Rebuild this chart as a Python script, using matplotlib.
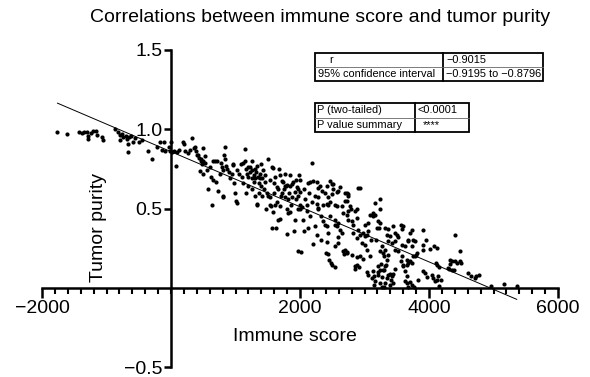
import numpy as np
import matplotlib
matplotlib.use("Agg")
import matplotlib.pyplot as plt
from matplotlib.patches import Rectangle
from matplotlib.lines import Line2D
from matplotlib.ticker import FixedLocator, MultipleLocator

plt.rcParams['font.family'] = ['Liberation Sans', 'DejaVu Sans']

# immune score (x) and tumor purity (y) for each sample
immune_score = [
    # below 0
    -1760, -1620, -1420, -1380, -1345, -1300, -1290, -1280, -1245, -1205,
    -1170, -1150, -1075, -1050, -865, -825, -790, -760, -740, -790,
    -700, -680, -650, -620, -585, -660, -670, -560, -490, -445,
    -350, -300, -220, -170, -145, -110, -90, -30, -15, 0,
    # 0 - 500
    10, 40, 80, 100, 130, 190, 200, 210, 260, 320,
    300, 350, 370, 390, 400, 420, 440, 450, 460, 470,
    480, 500,
    # 500 - 1000
    500, 520, 490, 530, 580, 630, 650, 655, 680, 710,
    705, 735, 770, 785, 800, 800, 810, 835, 835, 820,
    860, 900, 920, 955, 965, 990, 1005, 1020, 980, 940,
    870, 760, 600, 560, 620,
    # 1000 - 1500
    1020, 1080, 1110, 1120, 1145, 1160, 1180, 1200, 1220, 1230,
    1250, 1260, 1280, 1290, 1300, 1310, 1320, 1330, 1340, 1350,
    1360, 1380, 1390, 1400, 1410, 1420, 1440, 1450, 1460, 1480,
    1490, 1500, 1300, 1250, 1200, 1100, 1050, 1170, 1406, 1360,
    1140, 1260, 1380, 1335, 1190,
    # 1500 - 2000
    1510, 1535, 1535, 1545, 1560, 1560, 1585, 1585, 1610, 1630,
    1638, 1650, 1665, 1665, 1680, 1690, 1690, 1690, 1715, 1740,
    1765, 1767, 1780, 1795, 1795, 1805, 1818, 1820, 1845, 1845,
    1845, 1871, 1871, 1896, 1905, 1920, 1922, 1938, 1948, 1970,
    1975, 1973, 1973, 1989, 1540, 1600, 1620, 1720, 1760, 1830,
    1600, 1700, 1750, 1940, 1860,
    # 2000 - 2500
    2000, 2000, 2000, 2000, 2010, 2026, 2050, 2103, 2103, 2128,
    2155, 2181, 2181, 2206, 2206, 2232, 2232, 2258, 2258, 2258,
    2273, 2283, 2283, 2283, 2310, 2335, 2387, 2387, 2413, 2413,
    2403, 2413, 2413, 2438, 2438, 2438, 2438, 2449, 2465, 2465,
    2465, 2480, 2490, 2490, 2500, 2060, 2080, 2140, 2150, 2320,
    2350, 2360, 2330, 2060, 2120,
    # 2500 - 3000
    2516, 2516, 2537, 2542, 2542, 2542, 2542, 2568, 2568, 2568,
    2594, 2594, 2594, 2594, 2620, 2620, 2646, 2646, 2671, 2671,
    2684, 2697, 2697, 2697, 2723, 2723, 2723, 2723, 2731, 2748,
    2748, 2748, 2748, 2775, 2790, 2800, 2801, 2826, 2826, 2852,
    2852, 2860, 2878, 2878, 2878, 2878, 2889, 2903, 2903, 2919,
    2930, 2930, 2930, 2956, 2977, 2981,
    # 3000 - 3500
    3007, 3007, 3007, 3033, 3033, 3033, 3047, 3059, 3085, 3111,
    3136, 3136, 3136, 3142, 3153, 3162, 3162, 3162, 3188, 3203,
    3212, 3214, 3225, 3214, 3240, 3240, 3240, 3240, 3240, 3255,
    3266, 3270, 3270, 3291, 3291, 3300, 3300, 3307, 3317, 3317,
    3317, 3317, 3329, 3343, 3343, 3343, 3369, 3369, 3369, 3369,
    3388, 3395, 3395, 3418, 3421, 3421, 3446, 3446, 3446, 3472,
    3472, 3472, 3476, 3498, 3240, 3050, 3100, 3090, 3180,
    # 3500 - 4000
    3524, 3524, 3565, 3565, 3575, 3575, 3575, 3593, 3601, 3601,
    3627, 3627, 3627, 3652, 3652, 3665, 3653, 3679, 3679, 3681,
    3681, 3705, 3705, 3705, 3730, 3730, 3730, 3740, 3756, 3756,
    3768, 3782, 3782, 3798, 3808, 3833, 3911, 3911, 3911, 3911,
    3937, 3955, 3974,
    # above 4000
    4020, 4041, 4061, 4085, 4092, 4108, 4118, 4118, 4129, 4144,
    4149, 4149, 4179, 4290, 4314, 4325, 4325, 4351, 4355, 4384,
    4402, 4410, 4441, 4480, 4485, 4501, 4599, 4655, 4707, 4735,
    4779, 4955, 5162, 5360,
]

tumor_purity = [
    # below 0
    0.98, 0.97, 0.98, 0.975, 0.98, 0.985, 0.94, 0.96, 0.975, 0.99,
    0.99, 0.965, 0.95, 0.93, 1.0, 0.98, 0.965, 0.97, 0.95, 0.93,
    0.955, 0.94, 0.95, 0.955, 0.92, 0.91, 0.855, 0.945, 0.92, 0.935,
    0.86, 0.815, 0.885, 0.92, 0.87, 0.92, 0.86, 0.885, 0.865, 0.92,
    # 0 - 500
    0.855, 0.86, 0.765, 0.855, 0.87, 0.92, 0.905, 0.86, 0.85, 0.945,
    0.87, 0.88, 0.885, 0.865, 0.835, 0.84, 0.82, 0.735, 0.81, 0.80,
    0.78, 0.715,
    # 500 - 1000
    0.88, 0.83, 0.80, 0.79, 0.62, 0.52, 0.80, 0.68, 0.80, 0.80,
    0.67, 0.61, 0.79, 0.76, 0.74, 0.58, 0.57, 0.885, 0.81, 0.835,
    0.77, 0.73, 0.69, 0.78, 0.775, 0.595, 0.545, 0.74, 0.66, 0.72,
    0.75, 0.72, 0.76, 0.74, 0.70,
    # 1000 - 1500
    0.535, 0.78, 0.785, 0.66, 0.875, 0.75, 0.72, 0.70, 0.76, 0.73,
    0.69, 0.74, 0.71, 0.67, 0.75, 0.69, 0.73, 0.53, 0.77, 0.70,
    0.66, 0.72, 0.64, 0.78, 0.69, 0.74, 0.62, 0.67, 0.71, 0.50,
    0.60, 0.81, 0.58, 0.62, 0.64, 0.70, 0.72, 0.60, 0.576, 0.60,
    0.80, 0.80, 0.69, 0.52, 0.76,
    # 1500 - 2000
    0.58, 0.525, 0.57, 0.517, 0.76, 0.38, 0.755, 0.48, 0.525, 0.38,
    0.538, 0.635, 0.62, 0.43, 0.75, 0.71, 0.435, 0.517, 0.675, 0.665,
    0.645, 0.57, 0.64, 0.50, 0.34, 0.65, 0.559, 0.47, 0.48, 0.71,
    0.64, 0.654, 0.57, 0.665, 0.355, 0.43, 0.601, 0.559, 0.633, 0.495,
    0.23, 0.622, 0.58, 0.713, 0.68, 0.66, 0.70, 0.60, 0.72, 0.60,
    0.60, 0.58, 0.62, 0.68, 0.52,
    # 2000 - 2500
    0.68, 0.494, 0.601, 0.523, 0.228, 0.511, 0.43, 0.483, 0.523, 0.378,
    0.665, 0.787, 0.538, 0.675, 0.276, 0.388, 0.58, 0.67, 0.335, 0.527,
    0.494, 0.504, 0.627, 0.57, 0.643, 0.612, 0.595, 0.399, 0.388, 0.287,
    0.219, 0.643, 0.527, 0.525, 0.346, 0.212, 0.57, 0.173, 0.451, 0.673,
    0.538, 0.157, 0.591, 0.654, 0.146, 0.62, 0.56, 0.60, 0.45, 0.45,
    0.52, 0.42, 0.30, 0.36, 0.66,
    # 2500 - 3000
    0.652, 0.622, 0.133, 0.399, 0.523, 0.261, 0.43, 0.388, 0.601, 0.515,
    0.409, 0.321, 0.283, 0.61, 0.367, 0.633, 0.346, 0.517, 0.23, 0.473,
    0.212, 0.24, 0.546, 0.599, 0.219, 0.462, 0.549, 0.595, 0.228, 0.483,
    0.43, 0.58, 0.589, 0.515, 0.50, 0.42, 0.204, 0.399, 0.346, 0.483,
    0.135, 0.121, 0.441, 0.315, 0.146, 0.50, 0.192, 0.367, 0.628, 0.133,
    0.335, 0.198, 0.631, 0.283, 0.18, 0.346,
    # 3000 - 3500
    0.325, 0.399, 0.272, 0.335, 0.24, 0.097, 0.078, 0.409, 0.462, 0.061,
    0.451, 0.473, 0.103, 0.02, 0.073, 0.462, 0.536, 0.04, 0.378, 0.135,
    0.078, 0.42, 0.38, 0.097, 0.409, 0.557, 0.498, 0.114, 0.23, 0.15,
    0.261, 0.068, 0.005, 0.11, 0.219, 0.109, 0.005, 0.198, 0.135, 0.24,
    0.378, 0.03, 0.145, 0.177, 0.335, 0.061, 0.209, 0.082, 0.293, 0.371,
    0.085, 0.325, 0.019, 0.049, 0.072, 0.283, 0.388, 0.03, 0.085, 0.293,
    0.346, 0.24, 0.121, 0.335, 0.03, 0.36, 0.30, 0.20, 0.30,
    # 3500 - 4000
    0.23, 0.321, 0.399, 0.167, 0.371, 0.272, 0.198, 0.145, 0.388, 0.135,
    0.261, 0.103, 0.04, 0.145, 0.073, 0.175, 0.03, 0.293, 0.304, 0.157,
    0.003, 0.346, 0.167, 0.034, 0.367, 0.261, 0.019, 0.157, 0.304, 0.198,
    0.003, 0.198, 0.293, 0.204, 0.219, 0.051, 0.367, 0.241, 0.272, 0.103,
    0.093, 0.30, 0.068,
    # above 4000
    0.243, 0.082, 0.061, 0.263, 0.04, 0.156, 0.252, 0.051, 0.146, 0.072,
    0.133, 0.011, 0.049, 0.125, 0.118, 0.177, 0.15, 0.109, 0.169, 0.109,
    0.167, 0.335, 0.157, 0.167, 0.235, 0.157, 0.093, 0.074, 0.061, 0.072,
    0.082, 0.013, 0.025, 0.01,
]

x_ticks = [-2000, 2000, 4000, 6000]
y_ticks = [-0.5, 0.5, 1.0, 1.5]

corr_rows = [("r", "\u22120.9015"),
             ("95% confidence interval", "\u22120.9195 to \u22120.8796")]
p_rows = [("P (two-tailed)", "<0.0001"),
          ("P value summary", "****")]

W, H = 590, 377


def draw_table(fig, left, top, col_w, row_h, rows, text_off):
    # small boxed results table, positions in pixels from top-left
    width = sum(col_w)
    height = row_h * len(rows)
    fig.add_artist(Rectangle((left / W, 1 - (top + height) / H), width / W, height / H,
                             transform=fig.transFigure, fill=False, ec='black', lw=1.3))
    xdiv = (left + col_w[0]) / W
    fig.add_artist(Line2D([xdiv, xdiv], [1 - top / H, 1 - (top + height) / H],
                          transform=fig.transFigure, color='black', lw=1.3))
    for i in range(1, len(rows)):
        yl = 1 - (top + i * row_h) / H
        fig.add_artist(Line2D([left / W, (left + width) / W], [yl, yl],
                              transform=fig.transFigure, color='0.4', lw=0.6))
    for i, (label, value) in enumerate(rows):
        yc = 1 - (top + (i + 0.5) * row_h) / H
        fig.text((left + text_off[i][0]) / W, yc, label, fontsize=7.9, ha='left', va='center')
        fig.text((left + col_w[0] + text_off[i][1]) / W, yc, value, fontsize=7.9,
                 ha='left', va='center')


x = np.array(immune_score, dtype=float)
y = np.array(tumor_purity, dtype=float)

fig = plt.figure(figsize=(5.9, 3.77), dpi=100)
ax = fig.add_axes([42 / W, 10 / H, 516 / W, 317 / H])

ax.scatter(x, y, s=9, color='black', linewidths=0, zorder=3)

# linear regression line over the data range
slope, intercept = np.polyfit(x, y, 1)
xs = np.array([x.min(), x.max()])
ax.plot(xs, intercept + slope * xs, color='black', lw=0.7, zorder=2)

ax.set_xlim(-2000, 6000)
ax.set_ylim(-0.5, 1.5)

ax.spines['left'].set_position(('data', 0))
ax.spines['bottom'].set_position(('data', 0))
ax.spines['top'].set_visible(False)
ax.spines['right'].set_visible(False)
for s in ('left', 'bottom'):
    ax.spines[s].set_linewidth(1.8)

ax.xaxis.set_major_locator(FixedLocator(x_ticks))
ax.xaxis.set_minor_locator(MultipleLocator(200))
ax.yaxis.set_major_locator(FixedLocator(y_ticks))
ax.tick_params(axis='x', which='major', direction='out', length=7, width=1.8,
               labelsize=14, pad=2)
ax.tick_params(axis='x', which='minor', direction='out', length=4, width=1.5)
ax.tick_params(axis='y', which='major', direction='out', length=5, width=1.8,
               labelsize=14, pad=1)

ax.text(0.490, 0.095, "Immune score", transform=ax.transAxes, ha='center', va='center',
        fontsize=14)
ax.text(0.109, 0.44, "Tumor purity", transform=ax.transAxes, ha='center', va='center',
        fontsize=14, rotation=90)

fig.text(320 / W, 1 - 17 / H, "Correlations between immune score and tumor purity",
         ha='center', va='center', fontsize=14)

draw_table(fig, 315, 53, [128, 100], 14, corr_rows, [(14, 3), (3, 3)])
draw_table(fig, 315, 103, [100, 54], 14.5, p_rows, [(2, 2), (2, 8)])

fig.savefig("out.png", dpi=100)
